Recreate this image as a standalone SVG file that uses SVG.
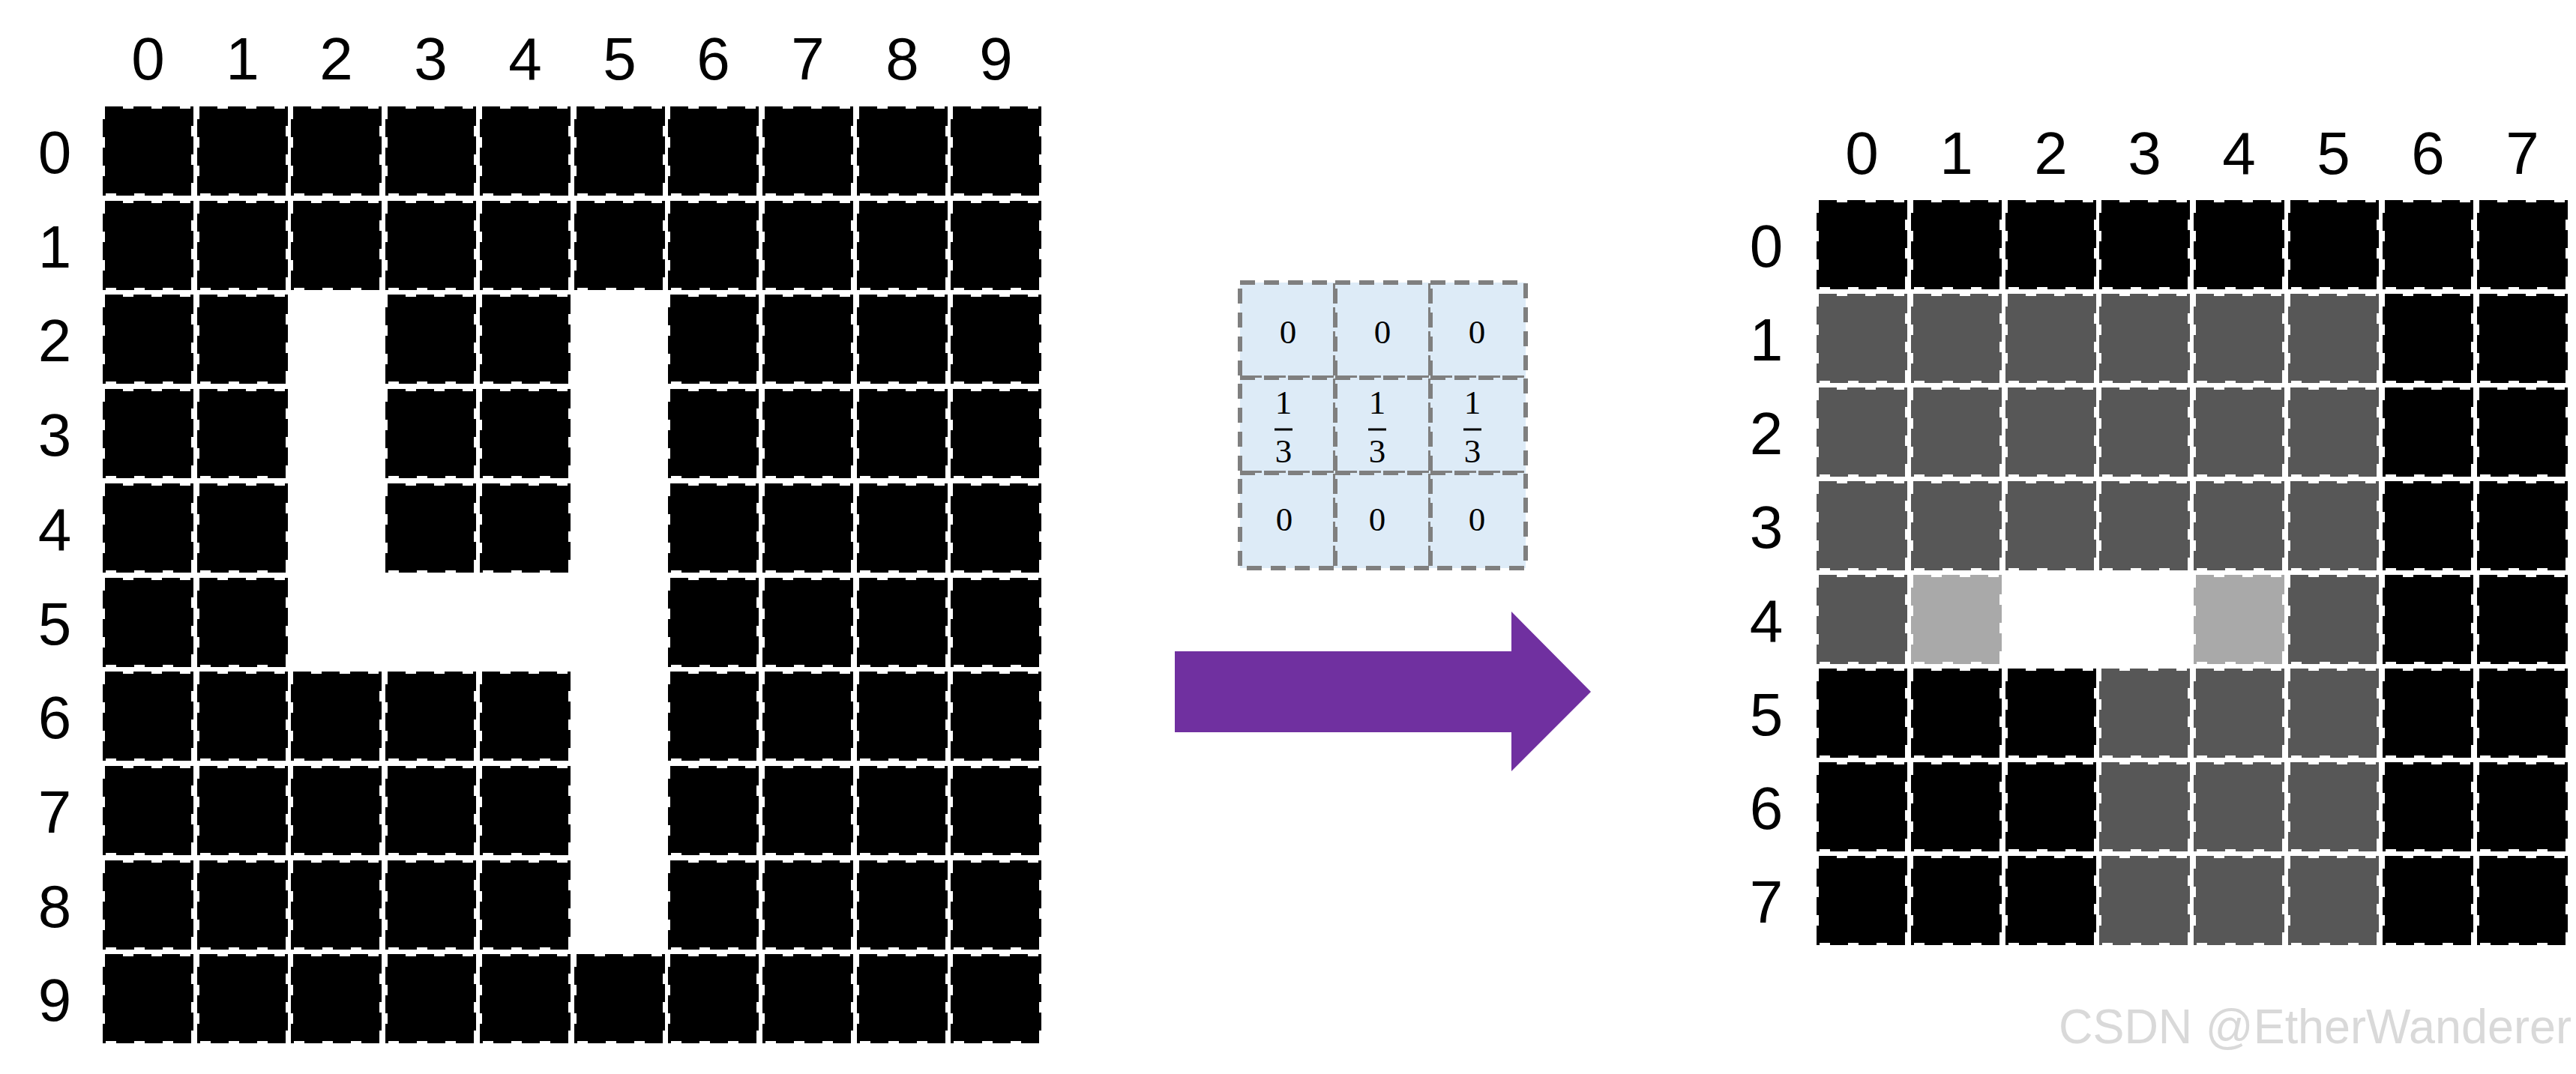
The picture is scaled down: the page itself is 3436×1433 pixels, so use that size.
<svg xmlns="http://www.w3.org/2000/svg" width="3436" height="1433" viewBox="0 0 3436 1433">
<style>
.lbl{font-family:"Liberation Sans",Arial,sans-serif;font-size:80px;fill:#000;text-anchor:middle}
.k{font-family:"Liberation Serif","Times New Roman",serif;font-size:45px;fill:#000;text-anchor:middle}
.b{fill:#000;stroke:#000;stroke-width:6;stroke-dasharray:24 14}
.g{fill:#575757;stroke:#575757;stroke-width:6;stroke-dasharray:24 14}
.lg{fill:#A9A9A9;stroke:#A9A9A9;stroke-width:6;stroke-dasharray:24 14}
.kc{fill:#DDEBF7;stroke:#7F7F7F;stroke-width:6;stroke-dasharray:20 12}
.wm{font-family:"Liberation Sans",Arial,sans-serif;font-size:64px;fill:#d9d9d9}
</style>
<rect width="3436" height="1433" fill="#fff"/>

<g id="input-labels">
<text class="lbl" x="197.5" y="106">0</text><text class="lbl" x="323.5" y="106">1</text><text class="lbl" x="448.5" y="106">2</text><text class="lbl" x="574.5" y="106">3</text><text class="lbl" x="700.5" y="106">4</text><text class="lbl" x="826.5" y="106">5</text><text class="lbl" x="951.5" y="106">6</text><text class="lbl" x="1077.5" y="106">7</text><text class="lbl" x="1203.5" y="106">8</text><text class="lbl" x="1328.5" y="106">9</text>
<text class="lbl" x="73" y="230.5">0</text><text class="lbl" x="73" y="356.5">1</text><text class="lbl" x="73" y="481.5">2</text><text class="lbl" x="73" y="607.5">3</text><text class="lbl" x="73" y="733.5">4</text><text class="lbl" x="73" y="859.5">5</text><text class="lbl" x="73" y="984.5">6</text><text class="lbl" x="73" y="1110.5">7</text><text class="lbl" x="73" y="1236.5">8</text><text class="lbl" x="73" y="1361.5">9</text>
</g>

<g id="input-grid">
<!-- row 0 -->
<rect class="b" x="140" y="145" width="115" height="113"/><rect class="b" x="266" y="145" width="115" height="113"/><rect class="b" x="391" y="145" width="115" height="113"/><rect class="b" x="517" y="145" width="115" height="113"/><rect class="b" x="643" y="145" width="115" height="113"/><rect class="b" x="769" y="145" width="115" height="113"/><rect class="b" x="894" y="145" width="115" height="113"/><rect class="b" x="1020" y="145" width="115" height="113"/><rect class="b" x="1146" y="145" width="115" height="113"/><rect class="b" x="1271" y="145" width="115" height="113"/>
<!-- row 1 -->
<rect class="b" x="140" y="271" width="115" height="113"/><rect class="b" x="266" y="271" width="115" height="113"/><rect class="b" x="391" y="271" width="115" height="113"/><rect class="b" x="517" y="271" width="115" height="113"/><rect class="b" x="643" y="271" width="115" height="113"/><rect class="b" x="769" y="271" width="115" height="113"/><rect class="b" x="894" y="271" width="115" height="113"/><rect class="b" x="1020" y="271" width="115" height="113"/><rect class="b" x="1146" y="271" width="115" height="113"/><rect class="b" x="1271" y="271" width="115" height="113"/>
<!-- row 2 -->
<rect class="b" x="140" y="396" width="115" height="113"/><rect class="b" x="266" y="396" width="115" height="113"/><rect class="b" x="517" y="396" width="115" height="113"/><rect class="b" x="643" y="396" width="115" height="113"/><rect class="b" x="894" y="396" width="115" height="113"/><rect class="b" x="1020" y="396" width="115" height="113"/><rect class="b" x="1146" y="396" width="115" height="113"/><rect class="b" x="1271" y="396" width="115" height="113"/>
<!-- row 3 -->
<rect class="b" x="140" y="522" width="115" height="113"/><rect class="b" x="266" y="522" width="115" height="113"/><rect class="b" x="517" y="522" width="115" height="113"/><rect class="b" x="643" y="522" width="115" height="113"/><rect class="b" x="894" y="522" width="115" height="113"/><rect class="b" x="1020" y="522" width="115" height="113"/><rect class="b" x="1146" y="522" width="115" height="113"/><rect class="b" x="1271" y="522" width="115" height="113"/>
<!-- row 4 -->
<rect class="b" x="140" y="648" width="115" height="113"/><rect class="b" x="266" y="648" width="115" height="113"/><rect class="b" x="517" y="648" width="115" height="113"/><rect class="b" x="643" y="648" width="115" height="113"/><rect class="b" x="894" y="648" width="115" height="113"/><rect class="b" x="1020" y="648" width="115" height="113"/><rect class="b" x="1146" y="648" width="115" height="113"/><rect class="b" x="1271" y="648" width="115" height="113"/>
<!-- row 5 -->
<rect class="b" x="140" y="774" width="115" height="113"/><rect class="b" x="266" y="774" width="115" height="113"/><rect class="b" x="894" y="774" width="115" height="113"/><rect class="b" x="1020" y="774" width="115" height="113"/><rect class="b" x="1146" y="774" width="115" height="113"/><rect class="b" x="1271" y="774" width="115" height="113"/>
<!-- row 6 -->
<rect class="b" x="140" y="899" width="115" height="113"/><rect class="b" x="266" y="899" width="115" height="113"/><rect class="b" x="391" y="899" width="115" height="113"/><rect class="b" x="517" y="899" width="115" height="113"/><rect class="b" x="643" y="899" width="115" height="113"/><rect class="b" x="894" y="899" width="115" height="113"/><rect class="b" x="1020" y="899" width="115" height="113"/><rect class="b" x="1146" y="899" width="115" height="113"/><rect class="b" x="1271" y="899" width="115" height="113"/>
<!-- row 7 -->
<rect class="b" x="140" y="1025" width="115" height="113"/><rect class="b" x="266" y="1025" width="115" height="113"/><rect class="b" x="391" y="1025" width="115" height="113"/><rect class="b" x="517" y="1025" width="115" height="113"/><rect class="b" x="643" y="1025" width="115" height="113"/><rect class="b" x="894" y="1025" width="115" height="113"/><rect class="b" x="1020" y="1025" width="115" height="113"/><rect class="b" x="1146" y="1025" width="115" height="113"/><rect class="b" x="1271" y="1025" width="115" height="113"/>
<!-- row 8 -->
<rect class="b" x="140" y="1151" width="115" height="113"/><rect class="b" x="266" y="1151" width="115" height="113"/><rect class="b" x="391" y="1151" width="115" height="113"/><rect class="b" x="517" y="1151" width="115" height="113"/><rect class="b" x="643" y="1151" width="115" height="113"/><rect class="b" x="894" y="1151" width="115" height="113"/><rect class="b" x="1020" y="1151" width="115" height="113"/><rect class="b" x="1146" y="1151" width="115" height="113"/><rect class="b" x="1271" y="1151" width="115" height="113"/>
<!-- row 9 -->
<rect class="b" x="140" y="1276" width="115" height="113"/><rect class="b" x="266" y="1276" width="115" height="113"/><rect class="b" x="391" y="1276" width="115" height="113"/><rect class="b" x="517" y="1276" width="115" height="113"/><rect class="b" x="643" y="1276" width="115" height="113"/><rect class="b" x="769" y="1276" width="115" height="113"/><rect class="b" x="894" y="1276" width="115" height="113"/><rect class="b" x="1020" y="1276" width="115" height="113"/><rect class="b" x="1146" y="1276" width="115" height="113"/><rect class="b" x="1271" y="1276" width="115" height="113"/>
</g>

<g id="kernel">
<rect class="kc" x="1654" y="377" width="127" height="127"/><rect class="kc" x="1781" y="377" width="127" height="127"/><rect class="kc" x="1908" y="377" width="127" height="127"/>
<rect class="kc" x="1654" y="504" width="127" height="127"/><rect class="kc" x="1781" y="504" width="127" height="127"/><rect class="kc" x="1908" y="504" width="127" height="127"/>
<rect class="kc" x="1654" y="631" width="127" height="127"/><rect class="kc" x="1781" y="631" width="127" height="127"/><rect class="kc" x="1908" y="631" width="127" height="127"/>
<text class="k" x="1718" y="458">0</text><text class="k" x="1844" y="458">0</text><text class="k" x="1970" y="458">0</text>
<text class="k" x="1712" y="552">1</text><text class="k" x="1837" y="552">1</text><text class="k" x="1964" y="552">1</text>
<line x1="1700" y1="573" x2="1724" y2="573" stroke="#000" stroke-width="3"/>
<line x1="1825" y1="573" x2="1849" y2="573" stroke="#000" stroke-width="3"/>
<line x1="1952" y1="573" x2="1976" y2="573" stroke="#000" stroke-width="3"/>
<text class="k" x="1712" y="617">3</text><text class="k" x="1837" y="617">3</text><text class="k" x="1964" y="617">3</text>
<text class="k" x="1713" y="708">0</text><text class="k" x="1837" y="708">0</text><text class="k" x="1970" y="708">0</text>
</g>

<g id="connectors">
<polygon id="arrow" points="1567,869 2016,869 2016,816 2122,923 2016,1029 2016,977 1567,977" fill="#7030A0"/>
</g>

<g id="output-labels">
<text class="lbl" x="2483.5" y="232">0</text><text class="lbl" x="2609.5" y="232">1</text><text class="lbl" x="2735.5" y="232">2</text><text class="lbl" x="2860.5" y="232">3</text><text class="lbl" x="2986.5" y="232">4</text><text class="lbl" x="3112.5" y="232">5</text><text class="lbl" x="3238.5" y="232">6</text><text class="lbl" x="3364.5" y="232">7</text>
<text class="lbl" x="2356" y="355.5">0</text><text class="lbl" x="2356" y="480.5">1</text><text class="lbl" x="2356" y="605.5">2</text><text class="lbl" x="2356" y="730.5">3</text><text class="lbl" x="2356" y="855.5">4</text><text class="lbl" x="2356" y="980.5">5</text><text class="lbl" x="2356" y="1105.5">6</text><text class="lbl" x="2356" y="1230.5">7</text>
</g>

<g id="output-grid">
<!-- row 0 -->
<rect class="b" x="2426" y="270" width="115" height="113"/><rect class="b" x="2552" y="270" width="115" height="113"/><rect class="b" x="2678" y="270" width="115" height="113"/><rect class="b" x="2803" y="270" width="115" height="113"/><rect class="b" x="2929" y="270" width="115" height="113"/><rect class="b" x="3055" y="270" width="115" height="113"/><rect class="b" x="3181" y="270" width="115" height="113"/><rect class="b" x="3307" y="270" width="115" height="113"/>
<!-- row 1 -->
<rect class="g" x="2426" y="395" width="115" height="113"/><rect class="g" x="2552" y="395" width="115" height="113"/><rect class="g" x="2678" y="395" width="115" height="113"/><rect class="g" x="2803" y="395" width="115" height="113"/><rect class="g" x="2929" y="395" width="115" height="113"/><rect class="g" x="3055" y="395" width="115" height="113"/><rect class="b" x="3181" y="395" width="115" height="113"/><rect class="b" x="3307" y="395" width="115" height="113"/>
<!-- row 2 -->
<rect class="g" x="2426" y="520" width="115" height="113"/><rect class="g" x="2552" y="520" width="115" height="113"/><rect class="g" x="2678" y="520" width="115" height="113"/><rect class="g" x="2803" y="520" width="115" height="113"/><rect class="g" x="2929" y="520" width="115" height="113"/><rect class="g" x="3055" y="520" width="115" height="113"/><rect class="b" x="3181" y="520" width="115" height="113"/><rect class="b" x="3307" y="520" width="115" height="113"/>
<!-- row 3 -->
<rect class="g" x="2426" y="645" width="115" height="113"/><rect class="g" x="2552" y="645" width="115" height="113"/><rect class="g" x="2678" y="645" width="115" height="113"/><rect class="g" x="2803" y="645" width="115" height="113"/><rect class="g" x="2929" y="645" width="115" height="113"/><rect class="g" x="3055" y="645" width="115" height="113"/><rect class="b" x="3181" y="645" width="115" height="113"/><rect class="b" x="3307" y="645" width="115" height="113"/>
<!-- row 4 -->
<rect class="g" x="2426" y="770" width="115" height="113"/><rect class="lg" x="2552" y="770" width="115" height="113"/><rect class="lg" x="2929" y="770" width="115" height="113"/><rect class="g" x="3055" y="770" width="115" height="113"/><rect class="b" x="3181" y="770" width="115" height="113"/><rect class="b" x="3307" y="770" width="115" height="113"/>
<!-- row 5 -->
<rect class="b" x="2426" y="895" width="115" height="113"/><rect class="b" x="2552" y="895" width="115" height="113"/><rect class="b" x="2678" y="895" width="115" height="113"/><rect class="g" x="2803" y="895" width="115" height="113"/><rect class="g" x="2929" y="895" width="115" height="113"/><rect class="g" x="3055" y="895" width="115" height="113"/><rect class="b" x="3181" y="895" width="115" height="113"/><rect class="b" x="3307" y="895" width="115" height="113"/>
<!-- row 6 -->
<rect class="b" x="2426" y="1020" width="115" height="113"/><rect class="b" x="2552" y="1020" width="115" height="113"/><rect class="b" x="2678" y="1020" width="115" height="113"/><rect class="g" x="2803" y="1020" width="115" height="113"/><rect class="g" x="2929" y="1020" width="115" height="113"/><rect class="g" x="3055" y="1020" width="115" height="113"/><rect class="b" x="3181" y="1020" width="115" height="113"/><rect class="b" x="3307" y="1020" width="115" height="113"/>
<!-- row 7 -->
<rect class="b" x="2426" y="1145" width="115" height="113"/><rect class="b" x="2552" y="1145" width="115" height="113"/><rect class="b" x="2678" y="1145" width="115" height="113"/><rect class="g" x="2803" y="1145" width="115" height="113"/><rect class="g" x="2929" y="1145" width="115" height="113"/><rect class="g" x="3055" y="1145" width="115" height="113"/><rect class="b" x="3181" y="1145" width="115" height="113"/><rect class="b" x="3307" y="1145" width="115" height="113"/>
</g>

<text class="wm" x="3430" y="1392" text-anchor="end" textLength="684" lengthAdjust="spacingAndGlyphs">CSDN @EtherWanderer</text>
</svg>
